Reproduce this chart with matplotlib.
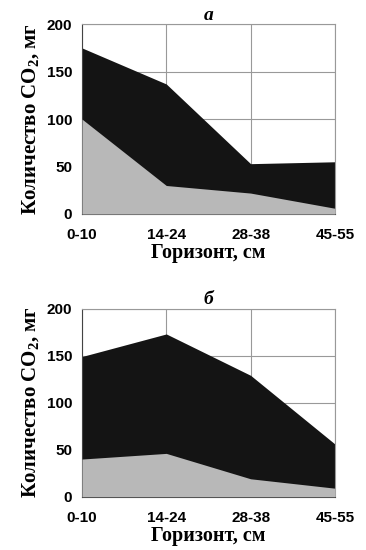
import matplotlib
matplotlib.use("Agg")
import matplotlib.pyplot as plt
import numpy as np

# horizons (cm)
horizons = ["0-10", "14-24", "28-38", "45-55"]

# panel a: lower (light) layer and total (top of dark layer), mg CO2
a_lower = [100, 30, 22, 6]
a_total = [175, 137, 53, 55]

# panel b
b_lower = [40, 46, 19, 9]
b_total = [149, 173, 129, 56]

plt.rcParams['mathtext.default'] = 'regular'

fig = plt.figure(figsize=(3.66, 5.5), dpi=100)

panels = [
    ("а", a_lower, a_total, [0.224, 0.611, 0.691, 0.345]),
    ("б", b_lower, b_total, [0.224, 0.097, 0.691, 0.342]),
]

x = np.arange(len(horizons))
for title, lower, total, rect in panels:
    ax = fig.add_axes(rect)
    ax.fill_between(x, 0, total, color="#141414", zorder=2, linewidth=0)
    ax.fill_between(x, 0, lower, color="#b8b8b8", zorder=3, linewidth=0)
    ax.set_xlim(0, len(horizons) - 1)
    ax.set_ylim(0, 200)
    ax.set_xticks(x)
    ax.set_xticklabels(horizons)
    ax.set_yticks([0, 50, 100, 150, 200])
    ax.grid(True, color="#999999", linewidth=0.8, zorder=1)
    ax.set_axisbelow(True)
    for s in ax.spines.values():
        s.set_color("#999999")
        s.set_linewidth(0.8)
    ax.spines['left'].set_color("#444444")
    ax.spines['bottom'].set_color("#444444")
    ax.tick_params(axis='x', length=0, pad=10)
    ax.tick_params(axis='y', length=0, pad=7)
    for lab in ax.get_xticklabels() + ax.get_yticklabels():
        lab.set_fontfamily("Liberation Sans")
        lab.set_fontweight("bold")
        lab.set_fontsize(11)
    ax.set_xlabel("Горизонт, см", fontfamily="Liberation Serif", fontweight="bold",
                  fontsize=14.5, labelpad=1)
    ax.set_ylabel("Количество CO$_2$, мг", fontfamily="Liberation Serif",
                  fontweight="bold", fontsize=15, labelpad=4)
    ax.set_title(title, fontfamily="Liberation Serif", fontweight="bold",
                 fontstyle="italic", fontsize=14, pad=3)

fig.savefig("out.png", dpi=100)
